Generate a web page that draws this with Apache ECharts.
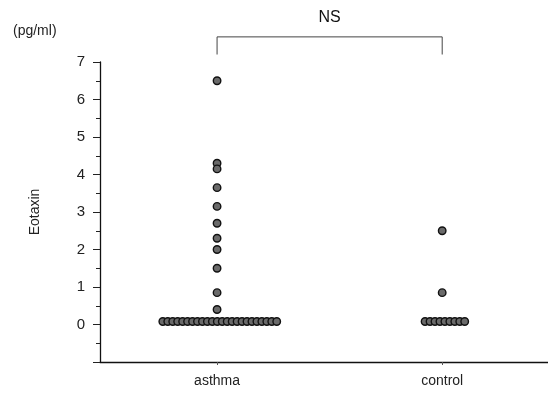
<!DOCTYPE html>
<html>
<head>
<meta charset="utf-8">
<script src="https://cdn.jsdelivr.net/npm/echarts@6/dist/echarts.min.js"></script>
<style>
html,body{margin:0;padding:0;background:#fff;}
#main{width:548px;height:395px;}
</style>
</head>
<body>
<div id="main"></div>
<script>
// groups and their measured values (pg/ml)
var groups = ['asthma', 'control'];
var asthmaHigh = [6.5, 4.3, 4.15, 3.65, 3.15, 2.7, 2.3, 2.0, 1.5, 0.85, 0.4];
var asthmaLowCount = 24;   // undetectable values, drawn near 0
var controlHigh = [2.5, 0.85];
var controlLowCount = 9;
var lowValue = 0.08;
var yTicks = [0, 1, 2, 3, 4, 5, 6, 7];

function buildGroup(idx, high, lowCount) {
    var pts = [];
    high.forEach(function (v) { pts.push([idx, v]); });
    // spread the equal low values side by side (simple beeswarm)
    var step = 0.022;
    for (var i = 0; i < lowCount; i++) {
        pts.push([idx + (i - (lowCount - 1) / 2) * step + 0.012, lowValue]);
    }
    return pts;
}

var points = buildGroup(0, asthmaHigh, asthmaLowCount)
    .concat(buildGroup(1, controlHigh, controlLowCount));

var font = 'Liberation Sans, Arial, sans-serif';

var option = {
    animation: false,
    backgroundColor: '#fff',
    title: {
        text: '(pg/ml)',
        left: 8,
        top: 19,
        textStyle: {fontFamily: font, fontSize: 14, fontWeight: 'normal', color: '#222'}
    },
    grid: {left: 100, right: 0, top: 62, bottom: 33},
    xAxis: {
        type: 'value',
        min: -0.52,
        max: 1.47,
        splitLine: {show: false},
        axisLine: {show: true, onZero: false, lineStyle: {color: '#111', width: 1.3}},
        axisTick: {show: true, customValues: [0, 1], length: 3, lineStyle: {color: '#555'}},
        axisLabel: {
            customValues: [0, 1],
            margin: 12,
            fontFamily: font,
            fontSize: 14,
            color: '#222',
            formatter: function (v) { return groups[Math.round(v)]; }
        }
    },
    yAxis: {
        type: 'value',
        min: -1,
        max: 7,
        interval: 1,
        name: 'Eotaxin',
        nameLocation: 'middle',
        nameGap: 58,
        nameTextStyle: {fontFamily: font, fontSize: 14, color: '#222'},
        splitLine: {show: false},
        axisLine: {show: true, onZero: false, lineStyle: {color: '#111', width: 1.3}},
        axisTick: {show: true, length: 7, lineStyle: {color: '#222'}},
        minorTick: {show: true, splitNumber: 2, length: 4, lineStyle: {color: '#222'}},
        axisLabel: {
            margin: 15,
            fontFamily: font,
            fontSize: 15,
            color: '#222',
            formatter: function (v) { return yTicks.indexOf(v) >= 0 ? String(v) : ''; }
        }
    },
    series: [{
        type: 'scatter',
        data: points,
        symbolSize: 7.5,
        itemStyle: {color: '#6a6a6a', borderColor: '#111', borderWidth: 1.4, opacity: 1}
    }]
};

var chart = echarts.init(document.getElementById('main'));
chart.setOption(option);

// significance bracket between the two groups
var left = chart.convertToPixel({gridIndex: 0}, [0, 7.67]);
var right = chart.convertToPixel({gridIndex: 0}, [1, 7.67]);
var drop = chart.convertToPixel({gridIndex: 0}, [0, 7.2])[1];
chart.setOption({
    graphic: [{
        type: 'polyline',
        shape: {points: [[left[0], drop], [left[0], left[1]], [right[0], right[1]], [right[0], drop]]},
        style: {stroke: '#444', lineWidth: 1, fill: null}
    }, {
        type: 'text',
        x: (left[0] + right[0]) / 2,
        y: left[1] - 19,
        style: {text: 'NS', fontFamily: font, fontSize: 16, fill: '#111', align: 'center', verticalAlign: 'middle'}
    }]
});
</script>
</body>
</html>
